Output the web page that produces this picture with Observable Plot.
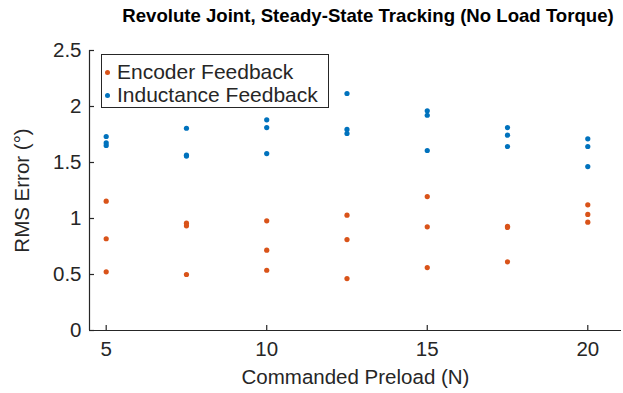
<!DOCTYPE html>
<html>
<head>
<meta charset="utf-8">
<script src="https://cdn.jsdelivr.net/npm/d3@7"></script>
<script src="https://cdn.jsdelivr.net/npm/@observablehq/plot@0.6"></script>
<style>
  html, body { margin: 0; padding: 0; background: #fff; }
  #wrap { position: relative; width: 623px; height: 393px; font-family: "Liberation Sans", Arial, Helvetica, sans-serif; color: #262626; }
  #title { position: absolute; left: 114px; width: 508px; top: 5px; text-align: center; font-weight: bold; font-size: 18.6px; color: #000; white-space: nowrap; }
  #chart { position: absolute; left: 0; top: 36px; }
  #legend { position: absolute; left: 101px; top: 54px; width: 226px; height: 52px; border: 1px solid #262626; background: #fff; font-size: 21px; }
  .row { position: absolute; left: 0; height: 24px; line-height: 24px; white-space: nowrap; }
  .dot { position: absolute; left: 3px; top: 9.5px; width: 5px; height: 5px; border-radius: 50%; }
  .lab { position: absolute; left: 15px; top: 0; }
</style>
</head>
<body>
<div id="wrap">
  <div id="title">Revolute Joint, Steady-State Tracking (No Load Torque)</div>
  <div id="chart"></div>
  <div id="legend"></div>
</div>
<script>
// Data
const preloads = [5, 7.5, 10, 12.5, 15, 17.5, 20];
const encoderRMS = [
  [1.155, 0.819, 0.524],
  [0.958, 0.935, 0.500],
  [0.979, 0.717, 0.538],
  [1.030, 0.812, 0.464],
  [1.196, 0.926, 0.562],
  [0.931, 0.920, 0.613],
  [1.122, 1.036, 0.967]
];
const inductanceRMS = [
  [1.732, 1.675, 1.652],
  [1.806, 1.565, 1.557],
  [1.881, 1.812, 1.580],
  [2.116, 1.795, 1.759],
  [1.961, 1.922, 1.607],
  [1.812, 1.744, 1.643],
  [1.711, 1.643, 1.464]
];
const seriesNames = ["Encoder Feedback", "Inductance Feedback"];
const seriesColors = ["#D95319", "#0072BD"];
const xTicks = [5, 10, 15, 20];
const yTicks = [0, 0.5, 1, 1.5, 2, 2.5];
const xLabel = "Commanded Preload (N)";
const yLabel = "RMS Error (°)";

const rows = [];
[encoderRMS, inductanceRMS].forEach((s, si) => {
  s.forEach((vals, i) => vals.forEach(v => rows.push({x: preloads[i], y: v, series: seriesNames[si]})));
});

const xDomain = [4.48, 21.05];
const yDomain = [0, 2.5];
const axisColor = "#262626";
const font = "\"Liberation Sans\", Arial, Helvetica, sans-serif";
const fs = 20.5;

const width = 623, height = 357;
const mL = 89, mR = 2, mT = 14, mB = 63;
const pxX = (xDomain[1] - xDomain[0]) / (width - mL - mR);
const pxY = (yDomain[1] - yDomain[0]) / (height - mT - mB);
const tickLen = 5;

const plot = Plot.plot({
  width, height,
  marginLeft: mL, marginRight: mR, marginTop: mT, marginBottom: mB,
  style: {fontFamily: font, fontSize: fs + "px", color: axisColor, background: "#fff"},
  x: {domain: xDomain},
  y: {domain: yDomain},
  color: {domain: seriesNames, range: seriesColors},
  marks: [
    Plot.axisX(xTicks, {tickSize: 0, tickPadding: 11, fontSize: fs, fill: axisColor, label: null, tickFormat: d => String(d)}),
    Plot.axisY(yTicks, {tickSize: 0, tickPadding: 8, fontSize: fs, fill: axisColor, label: null, tickFormat: d => String(d)}),
    Plot.text([xLabel], {frameAnchor: "bottom", dy: 53, fontSize: fs, fill: axisColor}),
    Plot.text([yLabel], {frameAnchor: "left", textAnchor: "middle", dx: -67, rotate: -90, fontSize: fs, fill: axisColor}),
    Plot.ruleY([yDomain[0]], {stroke: axisColor, strokeWidth: 1.2}),
    Plot.ruleX([xDomain[0]], {stroke: axisColor, strokeWidth: 1.2}),
    Plot.ruleX(xTicks, {y1: yDomain[0], y2: yDomain[0] + tickLen * pxY, stroke: axisColor, strokeWidth: 1.2}),
    Plot.ruleY(yTicks, {x1: xDomain[0], x2: xDomain[0] + tickLen * pxX, stroke: axisColor, strokeWidth: 1.2}),
    Plot.dot(rows, {x: "x", y: "y", fill: "series", r: 2.6, stroke: null})
  ]
});
document.getElementById("chart").appendChild(plot);

const legend = document.getElementById("legend");
seriesNames.forEach((name, i) => {
  const row = document.createElement("div");
  row.className = "row";
  row.style.top = (5 + i * 23) + "px";
  row.innerHTML = `<span class="dot" style="background:${seriesColors[i]}"></span><span class="lab">${name}</span>`;
  legend.appendChild(row);
});
</script>
</body>
</html>
